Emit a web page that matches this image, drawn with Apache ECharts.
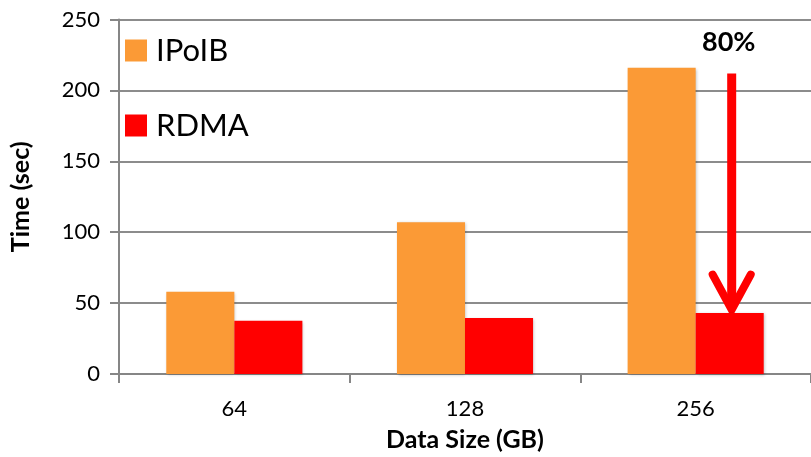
<!DOCTYPE html>
<html><head><meta charset="utf-8">
<script src="https://cdn.jsdelivr.net/npm/echarts@6/dist/echarts.min.js"></script>
<style>html,body{margin:0;padding:0;background:#fff}#c{width:811px;height:457px}</style>
</head><body><div id="c"></div>
<script>
const categories = ['64', '128', '256'];
const ipoib = [58, 107, 216];
const rdma = [37.5, 39.5, 43];
const yTicks = [0, 50, 100, 150, 200, 250];
const arrowFrom = 212;   // value at top of arrow
const arrowTo = 44;      // value at arrow tip
const arrowLabel = '80%';

const FONT = 'Lato, "Open Sans", sans-serif';
const chart = echarts.init(document.getElementById('c'));
const option = {
  animation: false,
  textStyle: { fontFamily: FONT },
  grid: { left: 119, top: 19.5, width: 696, bottom: 79.3, containLabel: false },
  legend: {
    orient: 'vertical', left: 125, top: 35, padding: 0,
    itemWidth: 22, itemHeight: 22, itemGap: 44, icon: 'rect',
    textStyle: { fontSize: 31, color: '#000', fontFamily: FONT, padding: [0, 0, 0, 4] },
    data: ['IPoIB', 'RDMA']
  },
  xAxis: {
    type: 'category', data: categories,
    name: 'Data Size (GB)', nameLocation: 'middle', nameGap: 53,
    nameTextStyle: { fontSize: 25, fontWeight: 'bold', color: '#000', fontFamily: FONT },
    axisLine: { lineStyle: { color: '#868686', width: 2 } },
    axisTick: { show: true, length: 9, lineStyle: { color: '#868686', width: 2 } },
    axisLabel: { fontSize: 22, color: '#000', margin: 24, fontFamily: FONT }
  },
  yAxis: {
    type: 'value', min: 0, max: 250, interval: 50,
    name: 'Time (sec)', nameLocation: 'middle', nameGap: 86, nameRotate: 90,
    nameTextStyle: { fontSize: 25, fontWeight: 'bold', color: '#000', fontFamily: FONT },
    axisLine: { show: true, lineStyle: { color: '#868686', width: 2 } },
    axisTick: { show: true, length: 9, lineStyle: { color: '#868686', width: 2 } },
    splitLine: { lineStyle: { color: '#8c8c8c', width: 2 } },
    axisLabel: { fontSize: 22, color: '#000', margin: 19, fontFamily: FONT,
      formatter: v => yTicks.includes(v) ? String(v) : '' }
  },
  series: [
    { name: 'IPoIB', type: 'bar', data: ipoib, barGap: '0%', barCategoryGap: '41%',
      itemStyle: { color: '#FB9A36', shadowColor: 'rgba(0,0,0,0.25)', shadowBlur: 3, shadowOffsetX: 1, shadowOffsetY: 1 } },
    { name: 'RDMA', type: 'bar', data: rdma, barGap: '0%', barCategoryGap: '41%',
      itemStyle: { color: '#FF0000', shadowColor: 'rgba(0,0,0,0.25)', shadowBlur: 3, shadowOffsetX: 1, shadowOffsetY: 1 } }
  ]
};
chart.setOption(option);

// annotation arrow over the last RDMA bar, positioned via the axes
const last = categories.length - 1;
const c0 = chart.convertToPixel({ gridIndex: 0 }, [0, 0]);
const c1 = chart.convertToPixel({ gridIndex: 0 }, [1, 0]);
const band = c1[0] - c0[0];
const barW = band * (1 - 0.41) / 2;
const cx = chart.convertToPixel({ gridIndex: 0 }, [last, 0])[0] + barW / 2 - 2;
const yTop = chart.convertToPixel({ gridIndex: 0 }, [last, arrowFrom])[1];
const yTip = chart.convertToPixel({ gridIndex: 0 }, [last, arrowTo])[1];
chart.setOption({
  graphic: [
    { type: 'line', shape: { x1: cx + 4, y1: yTop, x2: cx + 4, y2: yTip - 6 },
      style: { stroke: '#FF0000', lineWidth: 9 } },
    { type: 'polyline', shape: { points: [[cx - 15, yTip - 37], [cx + 4, yTip - 2], [cx + 23, yTip - 37]] },
      style: { stroke: '#FF0000', lineWidth: 8, fill: null, lineCap: 'round', lineJoin: 'miter' } },
    { type: 'text', x: cx + 1, y: yTop - 31,
      style: { text: arrowLabel, fontSize: 27, fontWeight: 'bold', fill: '#000', fontFamily: FONT,
        align: 'center', verticalAlign: 'middle' } }
  ]
});
</script></body></html>
